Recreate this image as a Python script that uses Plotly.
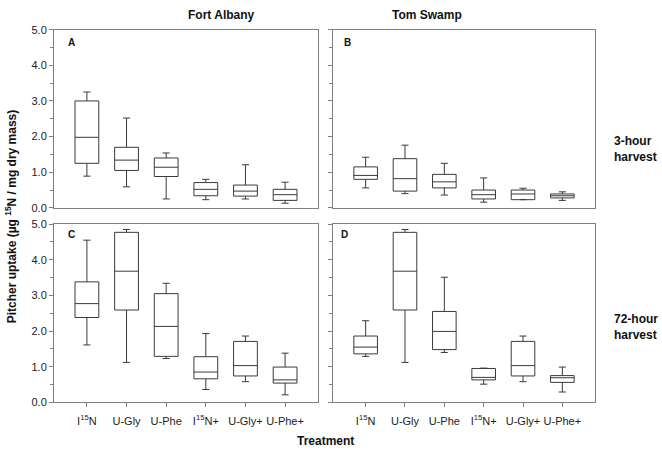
import plotly.graph_objects as go

categories = ["I<sup>15</sup>N", "U-Gly", "U-Phe", "I<sup>15</sup>N+", "U-Gly+", "U-Phe+"]
positions = [0, 1, 2, 3, 4, 5]

# Panel A: Fort Albany, 3-hour harvest
a_low = [0.89, 0.59, 0.25, 0.23, 0.25, 0.13]
a_q1 = [1.25, 1.05, 0.88, 0.34, 0.33, 0.21]
a_med = [1.98, 1.34, 1.14, 0.52, 0.47, 0.37]
a_q3 = [3.00, 1.70, 1.40, 0.71, 0.64, 0.52]
a_high = [3.25, 2.52, 1.54, 0.80, 1.21, 0.72]

# Panel B: Tom Swamp, 3-hour harvest
b_low = [0.56, 0.40, 0.36, 0.16, 0.23, 0.21]
b_q1 = [0.80, 0.47, 0.56, 0.25, 0.23, 0.28]
b_med = [0.91, 0.82, 0.73, 0.37, 0.39, 0.34]
b_q3 = [1.15, 1.38, 0.94, 0.50, 0.50, 0.39]
b_high = [1.42, 1.76, 1.25, 0.84, 0.55, 0.45]

# Panel C: Fort Albany, 72-hour harvest
c_low = [1.61, 1.12, 1.23, 0.36, 0.58, 0.21]
c_q1 = [2.38, 2.59, 1.29, 0.66, 0.74, 0.54]
c_med = [2.77, 3.68, 2.13, 0.85, 1.03, 0.63]
c_q3 = [3.38, 4.77, 3.05, 1.28, 1.71, 0.99]
c_high = [4.55, 4.85, 3.34, 1.93, 1.86, 1.38]

# Panel D: Tom Swamp, 72-hour harvest
d_low = [1.29, 1.12, 1.40, 0.51, 0.58, 0.29]
d_q1 = [1.36, 2.59, 1.48, 0.63, 0.74, 0.56]
d_med = [1.55, 3.68, 1.99, 0.70, 1.03, 0.69]
d_q3 = [1.86, 4.77, 2.55, 0.95, 1.71, 0.75]
d_high = [2.29, 4.85, 3.51, 0.96, 1.86, 0.99]

FONT = "Liberation Sans, Arial, sans-serif"
LINE = "#3a3a3a"
AX = "#808080"

fig = go.Figure()

panels = [
    ("x", "y", a_low, a_q1, a_med, a_q3, a_high),
    ("x2", "y2", b_low, b_q1, b_med, b_q3, b_high),
    ("x3", "y3", c_low, c_q1, c_med, c_q3, c_high),
    ("x4", "y4", d_low, d_q1, d_med, d_q3, d_high),
]
for xa, ya, lo, q1, med, q3, hi in panels:
    fig.add_trace(go.Box(
        x=positions, q1=q1, median=med, q3=q3, lowerfence=lo, upperfence=hi,
        xaxis=xa, yaxis=ya, width=0.6, whiskerwidth=0.3,
        fillcolor="white", line=dict(color=LINE, width=1),
        boxpoints=False, hoverinfo="skip", showlegend=False,
    ))

W, H = 662, 458
xl = [54 / W, 318 / W]
xr = [333 / W, 595 / W]
yt = [1 - 207.3 / H, 1 - 24.3 / H]
yb = [1 - 407 / H, 1 - 224 / H]

def xaxis(domain, anchor, show_ticks):
    d = dict(domain=domain, anchor=anchor, range=[-0.83, 5.83],
             tickmode="array", tickvals=positions, ticktext=categories,
             showgrid=False, zeroline=False, showline=True, mirror=True,
             linecolor=AX, linewidth=1,
             tickfont=dict(family=FONT, size=11, color="#222"))
    if show_ticks:
        d.update(ticks="outside", ticklen=4, tickcolor=AX, showticklabels=True,
                 ticklabelstandoff=4)
    else:
        d.update(ticks="", showticklabels=False)
    return d

def yaxis(domain, anchor, labels):
    return dict(domain=domain, anchor=anchor, range=[0, 5], dtick=1,
                tickformat=".1f", showgrid=False, zeroline=False,
                showline=True, mirror=True, linecolor=AX, linewidth=1,
                ticks="outside", ticklen=4, tickcolor=AX,
                minor=dict(dtick=0.5, ticks="outside", ticklen=3, tickcolor=AX),
                showticklabels=labels,
                tickfont=dict(family=FONT, size=11, color="#222"))

fig.update_layout(
    width=W, height=H,
    margin=dict(l=0, r=0, t=0, b=0),
    paper_bgcolor="white", plot_bgcolor="white",
    xaxis=xaxis(xl, "y", False),
    xaxis2=xaxis(xr, "y2", False),
    xaxis3=xaxis(xl, "y3", True),
    xaxis4=xaxis(xr, "y4", True),
    yaxis=yaxis(yt, "x", True),
    yaxis2=yaxis(yt, "x2", False),
    yaxis3=yaxis(yb, "x3", True),
    yaxis4=yaxis(yb, "x4", False),
    font=dict(family=FONT, color="#111"),
)

ann = []
bold = dict(family=FONT, size=12, color="#111")

def add(text, px, py, font=bold, **kw):
    d = dict(text=text, x=px / W, y=1 - py / H, xref="paper", yref="paper",
             showarrow=False, yanchor="middle", font=font)
    d.update(kw)
    ann.append(d)

add("<b>Fort Albany</b>", (54 + 318) / 2, 9)
add("<b>Tom Swamp</b>", (333 + 595) / 2, 9)
add("<b>Pitcher uptake (µg <sup>15</sup>N / mg dry mass)</b>", 11, 216,
    textangle=-90, xanchor="center")
add("<b>Treatment</b>", 325, 447)
add("<b>3-hour<br>harvest</b>", 612, 147, xanchor="left", align="left")
add("<b>72-hour<br>harvest</b>", 612, 330, xanchor="left", align="left")
for letter, px, py in [("A", 66, 37), ("B", 348, 37), ("C", 66, 235), ("D", 344, 235)]:
    add("<b>" + letter + "</b>", px, py, font=dict(family=FONT, size=10, color="#111"))
fig.update_layout(annotations=ann)

fig.write_html("out.html", config={"displayModeBar": False},
               post_script="document.body.style.margin='0';document.body.style.overflow='hidden';")
